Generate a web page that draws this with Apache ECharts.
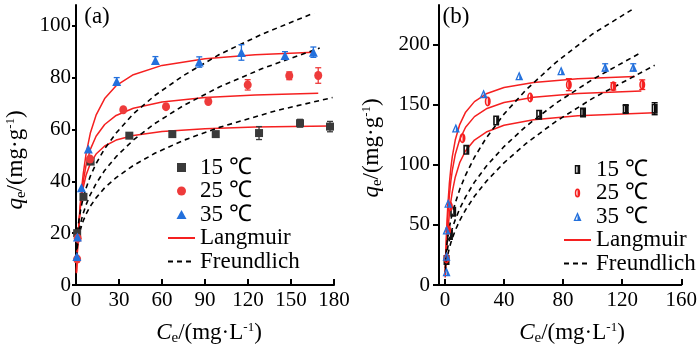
<!DOCTYPE html>
<html><head><meta charset="utf-8">
<script src="https://cdn.jsdelivr.net/npm/echarts@6/dist/echarts.min.js"></script>
<style>html,body{margin:0;padding:0;background:#fff}#c{width:700px;height:350px}</style>
</head><body><div id="c"></div>
<script>
// ---------- panel (a) data ----------
const aXTicks = [0, 30, 60, 90, 120, 150, 180];
const aYTicks = [0, 20, 40, 60, 80, 100];
const a15 = [[0.8,20],[5.2,34],[10.2,47.6],[37.2,57.6],[67.2,58.2],[97.5,58.2],[127.7,58.6],[156.3,62.4],[177.2,61.1]];
const a25 = [[0.8,10],[1.2,18],[9.8,48.6],[33,67.6],[62.8,68.8],[92.3,70.8],[119.8,77.2],[148.8,80.7],[169,80.8]];
const a35 = [[0.6,11],[1,18.5],[3.8,37.5],[8.6,52.5],[28.4,78.5],[55.4,86.6],[86,86],[115.4,89.7],[145.8,88.5],[165.6,89.8]];
const a15Err = [[127.7,58.6,2.5],[156.3,62.4,1.5],[177.2,61.1,2]];
const a25Err = [[119.8,77.2,2],[148.8,80.7,1.5],[169,80.8,3]];
const a35Err = [[28.4,78.5,1.5],[55.4,86.6,1.5],[86,86,2],[115.4,89.7,3],[145.8,88.5,1.5],[165.6,89.8,2]];
const aLang15 = [[0.3,5.2],[0.6,9.5],[1,14.4],[1.5,19.4],[2,23.4],[3,29.6],[4,34.1],[5,37.5],[7,42.3],[10,46.9],[14,50.5],[20,53.6],[28,55.9],[40,57.7],[60,59.2],[90,60.3],[125,60.9],[177,61.3]];
const aLang25 = [[0.3,4.7],[0.6,8.9],[1,13.7],[1.5,18.9],[2,23.2],[3,30.2],[4,35.6],[5,39.8],[7,46.1],[10,52.3],[14,57.4],[20,61.9],[28,65.4],[40,68.2],[60,70.6],[90,72.3],[125,73.3],[169,74]];
const aLang35 = [[0.3,4.5],[0.6,8.6],[1,13.5],[1.5,18.9],[2,23.6],[3,31.4],[4,37.6],[5,42.7],[7,50.5],[10,58.6],[14,65.5],[20,71.9],[28,76.9],[40,81.1],[60,84.7],[90,87.3],[125,88.8],[166,89.8]];
const aFr15 = [[0.3,10.6],[0.5,12.3],[1,15.2],[1.5,17.2],[2,18.7],[3,21.2],[4,23.1],[5,24.7],[7,27.3],[10,30.4],[14,33.6],[20,37.5],[28,41.4],[40,46.1],[55,50.8],[75,55.8],[100,60.8],[140,67.3],[179,72.3]];
const aFr25 = [[0.3,10.6],[0.5,12.6],[1,15.9],[1.5,18.3],[2,20.2],[3,23.2],[4,25.6],[5,27.6],[7,30.9],[10,34.9],[14,39.1],[20,44.2],[28,49.5],[40,55.9],[55,62.3],[75,69.2],[100,76.4],[130,83.5],[170,91.4]];
const aFr35 = [[0.3,13.4],[0.5,15.8],[1,19.8],[1.5,22.6],[2,24.8],[3,28.3],[4,31.1],[5,33.5],[7,37.3],[10,42],[14,46.8],[20,52.6],[28,58.6],[40,66],[55,73.1],[75,80.8],[100,88.9],[130,96.8],[166,104.9]];

// ---------- panel (b) data ----------
const bXTicks = [0, 40, 80, 120, 160];
const bYTicks = [0, 50, 100, 150, 200];
const b15 = [[1.1,20.8],[3.4,41.7],[5.6,61],[14.5,112.5],[34.7,136.9],[63.8,141.7],[93.5,143.6],[122.4,146.4],[142,146.7]];
const b25 = [[1.1,22],[2.2,45.8],[3.4,65.3],[11.9,122.2],[29,152.8],[57.7,156.1],[83.9,166.7],[114,165.3],[133.6,166.7]];
const b35 = [[1.1,11],[1.1,24],[1.1,45.8],[2.2,68],[7.4,130.6],[26.2,159.2],[50.3,174.2],[78.7,178.3],[108.5,181.1],[127.5,181.1]];
const b15Err = [[93.5,143.6,3],[122.4,146.4,3],[142,146.7,5]];
const b25Err = [[83.9,166.7,5],[114,165.3,3],[133.6,166.7,4]];
const b35Err = [[108.5,181.1,3],[127.5,181.1,3]];
const bLang15 = [[0.2,6.2],[0.5,14.7],[1,26.7],[1.5,36.7],[2,45.2],[3,58.8],[4,69.3],[5,77.5],[7,89.7],[10,101.8],[14,111.7],[20,120.6],[28,127.3],[40,132.9],[60,137.6],[90,140.9],[142,143.4]];
const bLang25 = [[0.2,8.5],[0.5,19.7],[1,35.3],[1.5,47.9],[2,58.2],[3,74.3],[4,86.2],[5,95.4],[7,108.6],[10,121.1],[14,131.3],[20,140.1],[28,146.6],[40,151.9],[60,156.3],[90,159.4],[133,161.5]];
const bLang35 = [[0.2,10.1],[0.5,23.2],[1,41.1],[1.5,55.2],[2,66.8],[3,84.3],[4,97.1],[5,106.8],[7,120.6],[10,133.5],[14,143.8],[20,152.6],[28,159.1],[40,164.3],[60,168.6],[90,171.6],[128.6,173.5]];
const bFr15 = [[0.3,10.6],[0.5,13.4],[1,18.5],[1.5,22.3],[2,25.5],[3,30.7],[4,35.1],[5,38.9],[7,45.4],[10,53.6],[14,62.6],[20,73.8],[28,86.2],[40,101.7],[55,117.8],[75,136],[100,155.3],[142,182.8]];
const bFr25 = [[0.3,14],[0.5,17.4],[1,23.5],[1.5,28],[2,31.7],[3,37.7],[4,42.7],[5,47.1],[7,54.3],[10,63.4],[14,73.3],[20,85.6],[28,98.8],[40,115.2],[55,132.2],[75,151.1],[100,171.1],[131.7,192.7]];
const bFr35 = [[0.3,18.2],[0.5,22.6],[1,30.2],[1.5,35.8],[2,40.4],[3,47.9],[4,54.1],[5,59.4],[7,68.2],[10,79.5],[14,91.5],[20,106.3],[28,122.4],[40,142.2],[55,162.5],[75,185.1],[100,208.9],[126.4,229]];

const legendLabels = {a15:'15 ℃', a25:'25 ℃', a35:'35 ℃', aL:'Langmuir', aF:'Freundlich',
                      b15:'15 ℃', b25:'25 ℃', b35:'35 ℃', bL:'Langmuir', bF:'Freundlich'};

const FF = 'Liberation Serif';
const RED = '#f52020', BLUE = '#2370dc', DARK = '#3a3a3a', REDM = '#ee3b3b';
const halfRect = 'path://M0 0H6V10H0Z M1.6 1.6V8.4H3V1.6Z';
const halfEll = 'path://M3 0A3 5 0 1 1 3 10A3 5 0 1 1 3 0Z M3 1.6A1.4 3.4 0 0 0 3 8.4Z';
const halfTri = 'path://M4 0L8 9L0 9Z M4 3L2 7.8L4 7.8Z';
const sqPath = 'path://M0 0H8V8H0Z';
const triPath = 'path://M5 0L10 9L0 9Z';

function errSeries(data, xi, color) {
  return {type:'custom', xAxisIndex:xi, yAxisIndex:xi, data:data, z:4, silent:true,
    encode:{x:0,y:1},
    renderItem:function(params, api){
      const x=api.value(0), y=api.value(1), e=api.value(2);
      const lo=api.coord([x,y-e]), hi=api.coord([x,y+e]);
      const st={stroke:color, lineWidth:1.3};
      return {type:'group', children:[
        {type:'line', shape:{x1:lo[0],y1:lo[1],x2:hi[0],y2:hi[1]}, style:st},
        {type:'line', shape:{x1:lo[0]-3,y1:lo[1],x2:lo[0]+3,y2:lo[1]}, style:st},
        {type:'line', shape:{x1:hi[0]-3,y1:hi[1],x2:hi[0]+3,y2:hi[1]}, style:st}
      ]};
    }};
}
function lineSeries(name, data, xi, dashed) {
  return {type:'line', name:name, xAxisIndex:xi, yAxisIndex:xi, data:data, symbol:'none',
    smooth:false, z:2,
    lineStyle: dashed ? {color:'#000', width:1.6, type:[5,4]} : {color:RED, width:1.5},
    itemStyle:{color: dashed ? '#000' : RED}};
}
function scat(name, data, xi, symbol, size, color) {
  return {type:'scatter', name:name, xAxisIndex:xi, yAxisIndex:xi, data:data, symbol:symbol,
    symbolSize:size, z:5, itemStyle:{color:color, opacity:1}};
}
function axisCommon() {
  return {type:'value', splitLine:{show:false},
    axisLine:{show:true, onZero:false, lineStyle:{color:'#000', width:2}},
    axisLabel:{color:'#000', fontSize:21, fontFamily:FF}};
}
const xa = Object.assign(axisCommon(), {gridIndex:0, min:0, max:180,
  axisTick:{inside:true, length:6, lineStyle:{width:2,color:'#000'}, customValues:aXTicks}});
xa.axisLabel = Object.assign({}, xa.axisLabel, {margin:5, customValues:aXTicks});
const ya = Object.assign(axisCommon(), {gridIndex:0, min:0, max:108,
  axisTick:{inside:false, length:4, lineStyle:{width:2,color:'#000'}, customValues:aYTicks}});
ya.axisLabel = Object.assign({}, ya.axisLabel, {margin:5, customValues:aYTicks});
const xb = Object.assign(axisCommon(), {gridIndex:1, min:-4, max:160,
  axisTick:{inside:true, length:6, lineStyle:{width:2,color:'#000'}, customValues:bXTicks}});
xb.axisLabel = Object.assign({}, xb.axisLabel, {margin:5, customValues:bXTicks});
const yb = Object.assign(axisCommon(), {gridIndex:1, min:0, max:233,
  axisTick:{inside:false, length:6, lineStyle:{width:2,color:'#000'}, customValues:bYTicks}});
yb.axisLabel = Object.assign({}, yb.axisLabel, {margin:9, customValues:bYTicks});

const hideSym = {opacity:0, color:'rgba(0,0,0,0)', borderWidth:0};
function legend(left, top, items) {
  return {orient:'vertical', left:left, top:top, itemWidth:27, itemHeight:9, itemGap:0.5,
    data:items, selectedMode:false,
    formatter:function(n){return legendLabels[n];},
    textStyle:{fontSize:23, fontFamily:FF, color:'#000', lineHeight:23}};
}

const chart = echarts.init(document.getElementById('c'), null, {renderer:'canvas'});
const richT = {
  i:{fontStyle:'italic', fontSize:23, fontFamily:FF, fill:'#000'},
  n:{fontSize:23, fontFamily:FF, fill:'#000'},
  sub:{fontSize:15, fontFamily:FF, fill:'#000', padding:[10,0,0,0]},
  sup:{fontSize:13, fontFamily:FF, fill:'#000', padding:[0,0,10,0]}
};
function title(x, y, rot, text) {
  return {type:'text', x:x, y:y, rotation:rot, silent:true,
    style:{text:text, rich:richT, align:'center', verticalAlign:'middle', fontSize:23, fontFamily:FF, fill:'#000'}};
}
chart.setOption({
  animation:false,
  grid:[{left:76, right:366, top:5, bottom:65},{left:439, right:16, top:5, bottom:65}],
  xAxis:[xa, xb], yAxis:[ya, yb],
  legend:[
    legend(162,151,[{name:'a15',icon:sqPath},{name:'a25',icon:'circle'},{name:'a35',icon:triPath},{name:'aL',itemStyle:hideSym},{name:'aF',itemStyle:hideSym}]),
    legend(558,153,[{name:'b15',icon:halfRect},{name:'b25',icon:halfEll},{name:'b35',icon:halfTri},{name:'bL',itemStyle:hideSym},{name:'bF',itemStyle:hideSym}])
  ],
  graphic:[
    title(16,160,Math.PI/2,'{i|q}{sub|e}{n|/(mg·g}{sup|-1}{n|)}'),
    title(372,148,Math.PI/2,'{i|q}{sub|e}{n|/(mg·g}{sup|-1}{n|)}'),
    title(209,333,0,'{i|C}{sub|e}{n|/(mg·L}{sup|-1}{n|)}'),
    title(572,333,0,'{i|C}{sub|e}{n|/(mg·L}{sup|-1}{n|)}'),
    {type:'text', x:97, y:17, style:{text:'(a)', align:'center', verticalAlign:'middle', fontSize:23, fontFamily:FF, fill:'#000'}},
    {type:'text', x:456, y:17, style:{text:'(b)', align:'center', verticalAlign:'middle', fontSize:23, fontFamily:FF, fill:'#000'}}
  ],
  series:[
    lineSeries('aL', aLang15, 0, false), lineSeries('aL', aLang25, 0, false), lineSeries('aL', aLang35, 0, false),
    lineSeries('aF', aFr15, 0, true), lineSeries('aF', aFr25, 0, true), lineSeries('aF', aFr35, 0, true),
    errSeries(a15Err, 0, DARK), errSeries(a25Err, 0, REDM), errSeries(a35Err, 0, BLUE),
    scat('a15', a15, 0, 'rect', 8, DARK), scat('a25', a25, 0, 'circle', [8,9], REDM), scat('a35', a35, 0, 'triangle', 9, BLUE),
    lineSeries('bL', bLang15, 1, false), lineSeries('bL', bLang25, 1, false), lineSeries('bL', bLang35, 1, false),
    lineSeries('bF', bFr15, 1, true), lineSeries('bF', bFr25, 1, true), lineSeries('bF', bFr35, 1, true),
    errSeries(b15Err, 1, '#000'), errSeries(b25Err, 1, RED), errSeries(b35Err, 1, BLUE),
    scat('b15', b15, 1, halfRect, [6,10], '#111'), scat('b25', b25, 1, halfEll, [6,10], RED), scat('b35', b35, 1, halfTri, [8,9], BLUE)
  ]
});
</script></body></html>
